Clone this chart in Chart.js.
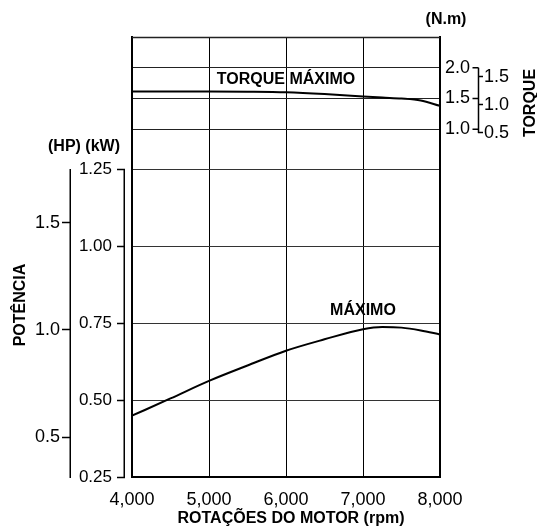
<!DOCTYPE html>
<html>
<head>
<meta charset="utf-8">
<script src="https://cdn.jsdelivr.net/npm/chart.js@4.4.0/dist/chart.umd.min.js"></script>
<style>
  html, body { margin: 0; padding: 0; background: #fff; }
  canvas { display: block; }
</style>
</head>
<body>
<canvas id="chart" width="537" height="528"></canvas>
<script>
// engine speed where the curves were read (rpm)
const rpm = [4000, 4500, 5000, 5500, 6000, 6500, 7000, 7250, 7500, 7750, 8000];
// power curve (kW)
const powerKW = [0.449, 0.505, 0.562, 0.612, 0.660, 0.697, 0.730, 0.737, 0.735, 0.726, 0.713];
// torque curve, read on the inner torque scale
const torque = [1.615, 1.615, 1.614, 1.61, 1.60, 1.572, 1.533, 1.515, 1.50, 1.468, 1.38];

// tick labels
const rpmTicks = [4000, 5000, 6000, 7000, 8000];
const kwTicks = [0.25, 0.5, 0.75, 1.0, 1.25];
const hpTicks = [0.5, 1.0, 1.5];
const torqueTicks = [1.0, 1.5, 2.0, 2.5]; // 2.5 is the top edge, no label
const torqueNmTicks = [0.5, 1.0, 1.5];

const FONT = '"Liberation Sans", Arial, Helvetica, sans-serif';
Chart.defaults.font.family = FONT;
Chart.defaults.color = '#000';

function setTicks(list) {
    return function (scale) {
        scale.ticks = list.map(function (v) { return { value: v }; });
    };
}
function fixWidth(w) {
    return function (scale) { scale.width = w; };
}

// axis lines that only cover part of the height, and the printed notes
const extras = {
    id: 'extras',
    afterDraw: function (chart) {
        const ctx = chart.ctx;
        const s = chart.scales;
        const area = chart.chartArea;
        const top = s.yKW.getPixelForValue(kwTicks[kwTicks.length - 1]);
        const bot = s.yKW.getPixelForValue(kwTicks[0]);

        ctx.save();
        // top edge of the plot
        ctx.strokeStyle = '#222';
        ctx.lineWidth = 1.5;
        ctx.beginPath();
        ctx.moveTo(area.left, area.top + 0.5);
        ctx.lineTo(area.right, area.top + 0.5);
        ctx.stroke();

        ctx.strokeStyle = '#000';
        ctx.lineWidth = 1.5;
        ctx.beginPath();
        ctx.moveTo(s.yHP.right - 0.75, top);
        ctx.lineTo(s.yHP.right - 0.75, bot + 1);
        ctx.moveTo(s.yKW.right - 0.75, top);
        ctx.lineTo(s.yKW.right - 0.75, bot + 1);

        // torque bracket between the two right scales
        const bx = s.yTN.left + 0.5;
        ctx.moveTo(bx, s.yT.getPixelForValue(2.0));
        ctx.lineTo(bx, s.yTN.getPixelForValue(0.5));
        torqueTicks.slice(0, 3).forEach(function (v) {
            const y = s.yT.getPixelForValue(v);
            ctx.moveTo(bx - 6, y);
            ctx.lineTo(bx, y);
        });
        ctx.stroke();

        ctx.fillStyle = '#000';
        ctx.textAlign = 'center';
        ctx.textBaseline = 'middle';
        ctx.font = 'bold 16px ' + FONT;
        ctx.fillText('TORQUE MÁXIMO', s.x.getPixelForValue(6000), s.yT.getPixelForValue(1.80));
        ctx.fillText('MÁXIMO', s.x.getPixelForValue(7000), s.yKW.getPixelForValue(0.79));
        ctx.fillText('ROTAÇÕES DO MOTOR (rpm)', 291, 519);
        ctx.fillText('(N.m)', 446, 20);
        ctx.fillText('(HP) (kW)', 84, 147);

        ctx.save();
        ctx.translate(21, 305);
        ctx.rotate(-Math.PI / 2);
        ctx.fillText('POTÊNCIA', 0, 0);
        ctx.restore();

        ctx.save();
        ctx.translate(531, 103);
        ctx.rotate(-Math.PI / 2);
        ctx.fillText('TORQUE', 0, 0);
        ctx.restore();

        ctx.restore();
    }
};

new Chart(document.getElementById('chart'), {
    type: 'line',
    data: {
        datasets: [{
            label: 'Potência',
            data: rpm.map(function (r, i) { return { x: r, y: powerKW[i] }; }),
            yAxisID: 'yKW',
            borderColor: '#000',
            borderWidth: 2,
            pointRadius: 0,
            cubicInterpolationMode: 'monotone',
            fill: false
        }, {
            label: 'Torque',
            data: rpm.map(function (r, i) { return { x: r, y: torque[i] }; }),
            yAxisID: 'yT',
            borderColor: '#000',
            borderWidth: 2,
            pointRadius: 0,
            cubicInterpolationMode: 'monotone',
            fill: false
        }]
    },
    options: {
        responsive: false,
        animation: false,
        events: [],
        layout: { padding: { top: 37, left: 0, right: 0, bottom: 0 } },
        plugins: {
            legend: { display: false },
            tooltip: { enabled: false }
        },
        scales: {
            x: {
                type: 'linear',
                min: 4000,
                max: 8000,
                afterBuildTicks: setTicks(rpmTicks),
                afterFit: function (scale) { scale.height = 51; },
                ticks: {
                    font: { size: 18 },
                    padding: 12,
                    autoSkip: false,
                    maxRotation: 0,
                    callback: function (v) { return v.toLocaleString('en-US'); }
                },
                grid: { color: '#000', lineWidth: 1, drawTicks: false },
                border: { color: '#000', width: 2 }
            },
            gap: {
                type: 'linear',
                position: 'left',
                weight: 0,
                min: 0,
                max: 1,
                afterFit: fixWidth(7),
                ticks: { display: false },
                grid: { drawOnChartArea: false, drawTicks: false },
                border: { color: '#000', width: 2 }
            },
            yKW: {
                type: 'linear',
                position: 'left',
                weight: 1,
                min: 0.25,
                max: 1.6786,
                afterBuildTicks: setTicks(kwTicks),
                afterFit: fixWidth(54),
                ticks: {
                    font: { size: 17 },
                    padding: 5,
                    callback: function (v) { return v.toFixed(2); }
                },
                grid: { color: '#333', lineWidth: 1, tickLength: 8, tickColor: '#000', tickWidth: 1.5 },
                border: { display: false }
            },
            yHP: {
                type: 'linear',
                position: 'left',
                weight: 2,
                min: 0.315,
                max: 2.365,
                afterBuildTicks: setTicks(hpTicks),
                afterFit: fixWidth(71),
                ticks: {
                    font: { size: 18 },
                    padding: 2,
                    callback: function (v) { return v.toFixed(1); }
                },
                grid: { drawOnChartArea: false, tickLength: 9, color: '#000', tickWidth: 1.5 },
                border: { display: false }
            },
            yT: {
                type: 'linear',
                position: 'right',
                weight: 0,
                min: -4.654,
                max: 2.5,
                afterBuildTicks: setTicks(torqueTicks),
                afterFit: fixWidth(38),
                ticks: {
                    font: { size: 18 },
                    padding: 5,
                    callback: function (v) { return v === 2.5 ? '' : v.toFixed(1); }
                },
                grid: { drawTicks: false, lineWidth: 1, color: '#222' },
                border: { color: '#000', width: 2 }
            },
            yTN: {
                type: 'linear',
                position: 'right',
                weight: 1,
                min: -5.643,
                max: 2.214,
                afterBuildTicks: setTicks(torqueNmTicks),
                afterFit: fixWidth(59),
                ticks: {
                    font: { size: 18 },
                    padding: 1,
                    callback: function (v) { return v.toFixed(1); }
                },
                grid: { drawOnChartArea: false, tickLength: 5, color: '#000', tickWidth: 1.5 },
                border: { display: false }
            }
        }
    },
    plugins: [extras]
});
</script>
</body>
</html>
